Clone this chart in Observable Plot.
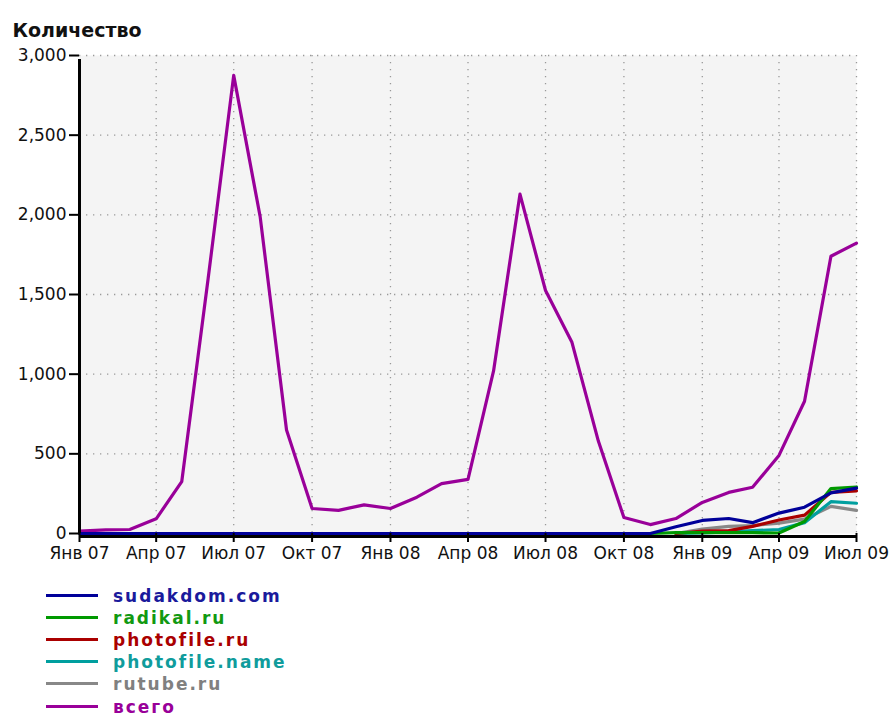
<!DOCTYPE html>
<html>
<head>
<meta charset="utf-8">
<script src="https://cdn.jsdelivr.net/npm/d3@7"></script>
<script src="https://cdn.jsdelivr.net/npm/@observablehq/plot@0.6"></script>
<style>
  html, body { margin: 0; padding: 0; background: #ffffff; }
  #wrap { position: relative; width: 890px; height: 716px; overflow: hidden; }
  #legend { position: absolute; left: 0; top: 0; width: 890px; height: 716px; pointer-events: none; }
  .row { position: absolute; left: 0; height: 16px; }
  .row .sw { position: absolute; left: 46px; top: 6px; width: 52px; height: 3px; }
  .row .lb { position: absolute; left: 113px; top: 0; line-height: 16px; font-family: "DejaVu Sans", sans-serif; font-weight: bold; font-size: 17px; letter-spacing: 2px; white-space: nowrap; }
</style>
</head>
<body>
<div id="wrap"><div id="chart"></div><div id="legend"></div></div>
<script>
// ---- data ----
const months = ["2007-01","2007-02","2007-03","2007-04","2007-05","2007-06","2007-07","2007-08","2007-09","2007-10","2007-11","2007-12",
                "2008-01","2008-02","2008-03","2008-04","2008-05","2008-06","2008-07","2008-08","2008-09","2008-10","2008-11","2008-12",
                "2009-01","2009-02","2009-03","2009-04","2009-05","2009-06","2009-07"];

const sudakdom = [0,0,0,0,0,0,0,0,0,0,0,0, 0,0,0,0,0,0,0,0,0,0,0,42, 82,94,68,128,165,255,285];
const radikal = [null,null,null,null,null,null,null,null,null,null,null,null, null,null,null,null,null,null,null,null,null,null,0,5, 5,5,5,3,75,282,292];
const photofileRu = [null,null,null,null,null,null,null,null,null,null,null,null, null,null,null,null,null,null,null,null,null,null,null,0, 15,18,45,85,115,258,268];
const photofileName = [null,null,null,null,null,null,null,null,null,null,null,null, null,null,null,null,null,null,null,null,null,null,null,0, 3,10,18,25,68,200,190];
const rutube = [null,null,null,null,null,null,null,null,null,null,null,null, null,null,null,null,null,null,null,null,null,null,null,0, 28,45,50,65,90,170,145];
const vsego = [15,23,25,92,325,1600,2875,1990,650,157,145,180, 157,228,313,340,1020,2130,1525,1200,580,100,56,94, 195,258,290,490,830,1740,1822];

const seriesNames = ["sudakdom.com","radikal.ru","photofile.ru","photofile.name","rutube.ru","всего"];
const seriesColors = ["#000099","#009900","#aa0000","#009f9f","#888888","#990099"];
const legendColors = ["#1a1a9c","#119911","#aa0000","#109c9c","#808080","#990099"];

const xTickMonths = ["2007-01","2007-04","2007-07","2007-10","2008-01","2008-04","2008-07","2008-10","2009-01","2009-04","2009-07"];
const xTickLabels = ["Янв 07","Апр 07","Июл 07","Окт 07","Янв 08","Апр 08","Июл 08","Окт 08","Янв 09","Апр 09","Июл 09"];
const yTicks = [0,500,1000,1500,2000,2500,3000];
const yTitle = "Количество";

// ---- build ----
const parse = d3.utcParse("%Y-%m");
const seriesValues = [sudakdom, radikal, photofileRu, photofileName, rutube, vsego];
const rows = [];
seriesNames.forEach((name, i) => {
  seriesValues[i].forEach((v, j) => {
    if (v !== null) rows.push({series: name, date: parse(months[j]), value: v});
  });
});
const tickDates = xTickMonths.map(parse);
const labelMap = new Map(tickDates.map((d, i) => [+d, xTickLabels[i]]));
const xDomain = [parse(months[0]), parse(months[months.length - 1])];

const drawOrder = ["всего","rutube.ru","photofile.name","photofile.ru","radikal.ru","sudakdom.com"];
const lineMarks = drawOrder.map(name => {
  const i = seriesNames.indexOf(name);
  return Plot.line(rows.filter(r => r.series === name), {x: "date", y: "value", stroke: seriesColors[i], strokeWidth: 3.2});
});

const chart = Plot.plot({
  width: 890,
  height: 575,
  marginLeft: 79,
  marginRight: 34,
  marginTop: 55,
  marginBottom: 42,
  style: {fontFamily: "DejaVu Sans, sans-serif", fontSize: "17px", color: "#111", background: "#ffffff", overflow: "visible"},
  x: {type: "utc", domain: xDomain, label: null},
  y: {domain: [0, 3000], label: null},
  marks: [
    Plot.frame({fill: "#f4f4f4", stroke: null}),
    Plot.ruleY(yTicks.filter(d => d > 0), {stroke: "#999", strokeWidth: 1.3, strokeDasharray: "1.3,5.7"}),
    Plot.ruleX(tickDates.slice(1), {stroke: "#999", strokeWidth: 1.3, strokeDasharray: "1.3,5.7"}),
    ...lineMarks,
    Plot.ruleY([0], {stroke: "#000", strokeWidth: 3, dy: 3}),
    Plot.ruleX([xDomain[0]], {stroke: "#000", strokeWidth: 3, y1: 0, y2: 3000, insetBottom: -4}),
    Plot.axisY({ticks: yTicks, tickFormat: d3.format(","), tickSize: 10, tickPadding: 3, stroke: "#000", strokeWidth: 2}),
    Plot.axisX({ticks: tickDates, tickFormat: d => labelMap.get(+d), tickSize: 9, tickPadding: 4, stroke: "#000", strokeWidth: 2}),
    Plot.text([yTitle], {frameAnchor: "top-left", dx: -67, dy: -32, textAnchor: "start", fontWeight: "bold", fontSize: 19, fill: "#111"})
  ]
});
document.getElementById("chart").appendChild(chart);

// ---- legend ----
const legendTops = [588, 610, 632, 654, 676, 699];
const legend = document.getElementById("legend");
seriesNames.forEach((name, i) => {
  const row = document.createElement("div");
  row.className = "row";
  row.style.top = legendTops[i] + "px";
  const sw = document.createElement("div");
  sw.className = "sw";
  sw.style.background = seriesColors[i];
  const lb = document.createElement("div");
  lb.className = "lb";
  lb.style.color = legendColors[i];
  lb.textContent = name;
  row.appendChild(sw);
  row.appendChild(lb);
  legend.appendChild(row);
});
</script>
</body>
</html>
